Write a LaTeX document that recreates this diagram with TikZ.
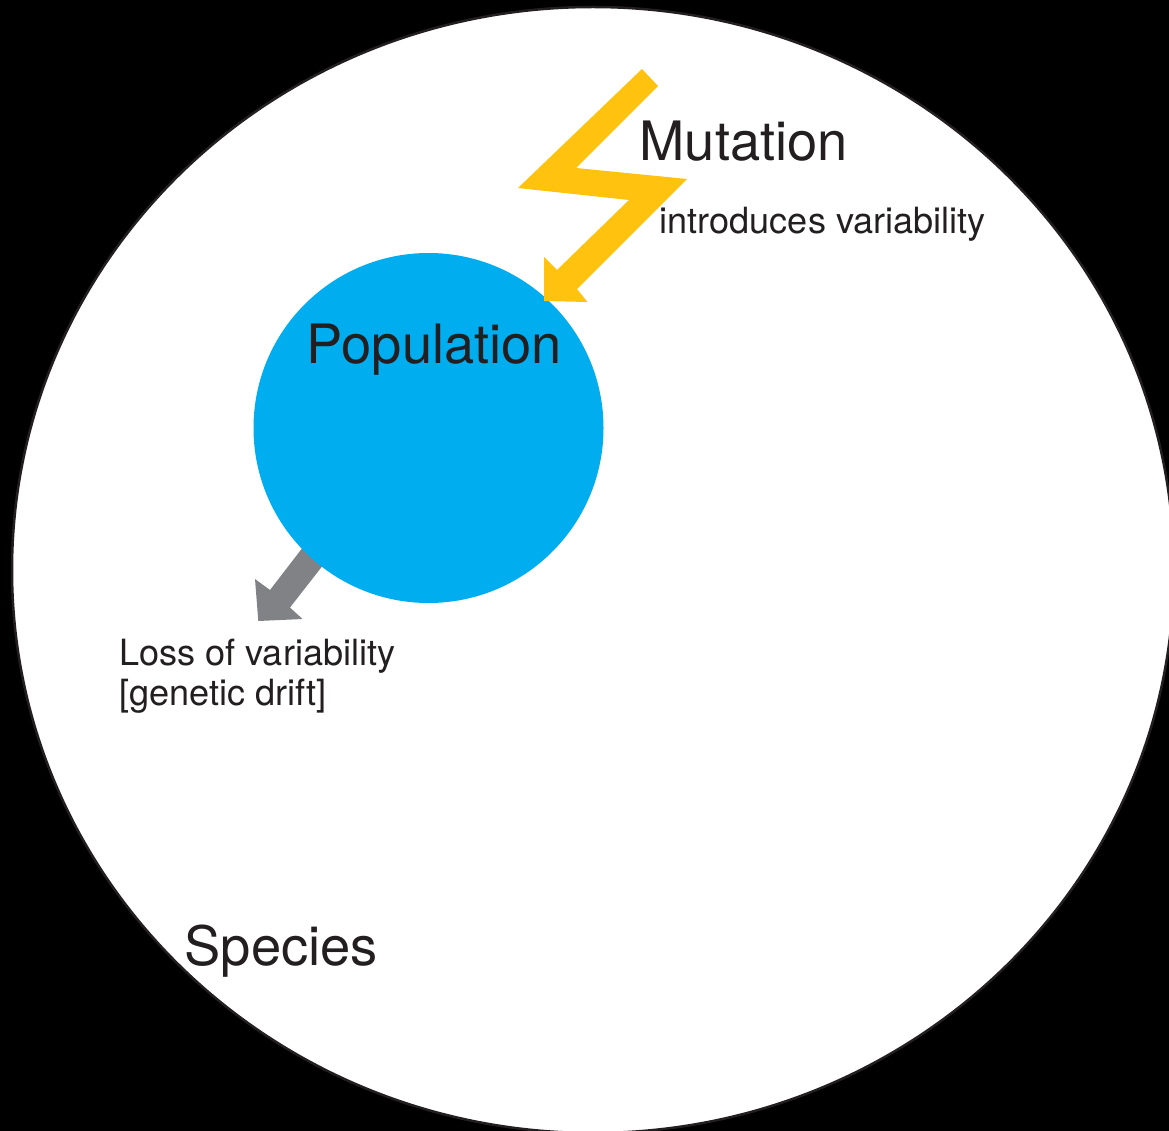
\documentclass[tikz,border=0pt]{standalone}
\usepackage{fontspec}
\setmainfont{TeX Gyre Heros}
\definecolor{inkc}{HTML}{231F20}
\definecolor{popblue}{HTML}{00AEEF}
\definecolor{boltyellow}{HTML}{FFC20E}
\definecolor{driftgray}{HTML}{808285}
\begin{document}
\begin{tikzpicture}[x=1pt,y=-1pt,
  bigtext/.style={inner sep=0pt,anchor=base west,text=inkc,font=\fontsize{54.3}{60}\selectfont},
  smalltext/.style={inner sep=0pt,anchor=base west,text=inkc,font=\fontsize{36.1}{40}\selectfont}]
\useasboundingbox (0,0) rectangle (1169,1131);
\fill[black] (0,0) rectangle (1169,1131);
% species ellipse
\begin{scope}
\clip (0,0) rectangle (1169,1131);
\filldraw[fill=white,draw=inkc,line width=2.5pt] (593,570) ellipse [x radius=581, y radius=563];
\end{scope}
% drift arrow (behind population)
\fill[driftgray] (317,529) -- (270,590) -- (255,579) -- (258.3,621) -- (302.5,619) -- (290,607.5) -- (338,546) -- cycle;
% population
\node[circle,fill=popblue,minimum size=350pt,inner sep=0pt] (pop) at (428.5,428) {};
% mutation bolt
\fill[boltyellow] (642,69) -- (658,86) -- (576,168) -- (687,179) -- (577,289) -- (587.5,302) -- (544,301) -- (544,257) -- (557,270) -- (629,200) -- (518,188) -- cycle;
% labels
\node[bigtext] (mut) at (639.5,161) {Mutation};
\node[smalltext] (intro) at (659.5,233.3) {introduces variability};
\node[bigtext] (poplabel) at (306.5,363.5) {Population};
\node[smalltext] (loss1) at (119,665) {Loss of variability};
\node[smalltext] (loss2) at (119,705) {[genetic drift]};
\node[bigtext] (species) at (184.5,965) {Species};
\end{tikzpicture}
\end{document}
